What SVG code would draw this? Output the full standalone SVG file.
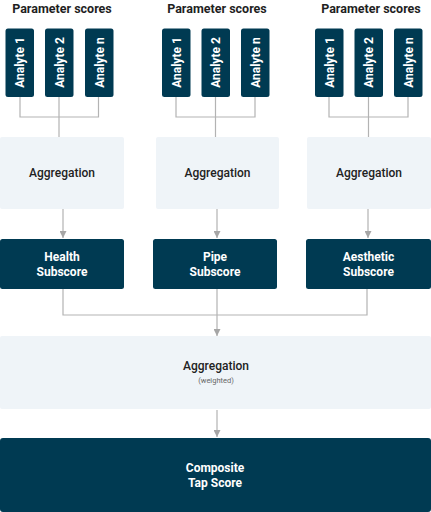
<svg xmlns="http://www.w3.org/2000/svg" width="431" height="512" viewBox="0 0 431 512">
<defs>
<style>
.title{font-family:Roboto,"Liberation Sans",sans-serif;font-weight:700;font-size:12.5px;fill:#1f1f1f;text-anchor:middle}
.an{fill:#003a52}
.ant{font-family:Roboto,"Liberation Sans",sans-serif;font-weight:700;font-size:12px;fill:#fff;text-anchor:middle}
.agg{fill:#eff4f8}
.aggt{font-family:Roboto,"Liberation Sans",sans-serif;font-weight:500;font-size:12px;fill:#222;text-anchor:middle}
.sub{font-family:Roboto,"Liberation Sans",sans-serif;font-size:7.5px;fill:#666;text-anchor:middle}
.dk{fill:#003a52}
.dkt{font-family:Roboto,"Liberation Sans",sans-serif;font-weight:700;font-size:12px;fill:#fff;text-anchor:middle}
.ln{fill:none;stroke:#b3b3b3;stroke-width:1.2}
</style>
<marker id="ah" viewBox="0 0 10 10" refX="10" refY="5" markerWidth="7" markerHeight="7" markerUnits="userSpaceOnUse" orient="auto">
<path d="M0,0 L10,5 L0,10 z" fill="#a6a6a6"/>
</marker>
</defs>

<g id="connectors">
<path class="ln" d="M20,97 V117 H98.5 V97 M59,97 V137"/>
<path class="ln" d="M176,97 V117 H255 V97 M215.5,97 V137"/>
<path class="ln" d="M329,97 V117 H408 V97 M368.5,97 V137"/>
<path class="ln" d="M63,209 V238" marker-end="url(#ah)"/>
<path class="ln" d="M217,209 V238" marker-end="url(#ah)"/>
<path class="ln" d="M368,209 V238" marker-end="url(#ah)"/>
<path class="ln" d="M63,289 V315 H367 V289 M217,289 V336" marker-end="url(#ah)"/>
<path class="ln" d="M217,410 V437" marker-end="url(#ah)"/>
</g>

<g id="title-1"><text class="title" x="62" y="13">Parameter scores</text></g>
<g id="title-2"><text class="title" x="217" y="13">Parameter scores</text></g>
<g id="title-3"><text class="title" x="371" y="13">Parameter scores</text></g>

<g id="a1-1"><rect class="an" x="5.5" y="28.5" width="28.5" height="68.5" rx="2.5"/><text class="ant" transform="translate(24,62.5) rotate(-90)">Analyte 1</text></g>
<g id="a1-2"><rect class="an" x="45" y="28.5" width="28.5" height="68.5" rx="2.5"/><text class="ant" transform="translate(63.5,62.5) rotate(-90)">Analyte 2</text></g>
<g id="a1-n"><rect class="an" x="85" y="28.5" width="28.5" height="68.5" rx="2.5"/><text class="ant" transform="translate(103.5,62.5) rotate(-90)">Analyte n</text></g>

<g id="a2-1"><rect class="an" x="162" y="28.5" width="28.5" height="68.5" rx="2.5"/><text class="ant" transform="translate(180.5,62.5) rotate(-90)">Analyte 1</text></g>
<g id="a2-2"><rect class="an" x="201.5" y="28.5" width="28.5" height="68.5" rx="2.5"/><text class="ant" transform="translate(220,62.5) rotate(-90)">Analyte 2</text></g>
<g id="a2-n"><rect class="an" x="241" y="28.5" width="28.5" height="68.5" rx="2.5"/><text class="ant" transform="translate(259.5,62.5) rotate(-90)">Analyte n</text></g>

<g id="a3-1"><rect class="an" x="315" y="28.5" width="28.5" height="68.5" rx="2.5"/><text class="ant" transform="translate(333.5,62.5) rotate(-90)">Analyte 1</text></g>
<g id="a3-2"><rect class="an" x="354.5" y="28.5" width="28.5" height="68.5" rx="2.5"/><text class="ant" transform="translate(373,62.5) rotate(-90)">Analyte 2</text></g>
<g id="a3-n"><rect class="an" x="394" y="28.5" width="28.5" height="68.5" rx="2.5"/><text class="ant" transform="translate(412.5,62.5) rotate(-90)">Analyte n</text></g>

<g id="agg-1"><rect class="agg" x="0" y="137" width="124" height="72" rx="2"/><text class="aggt" x="62" y="177">Aggregation</text></g>
<g id="agg-2"><rect class="agg" x="156" y="137" width="123" height="72" rx="2"/><text class="aggt" x="217.5" y="177">Aggregation</text></g>
<g id="agg-3"><rect class="agg" x="307" y="137" width="124" height="72" rx="2"/><text class="aggt" x="369" y="177">Aggregation</text></g>

<g id="health"><rect class="dk" x="0" y="239" width="124" height="50" rx="2.5"/><text class="dkt" x="62" y="261">Health</text><text class="dkt" x="62" y="276">Subscore</text></g>
<g id="pipe"><rect class="dk" x="153" y="239" width="124" height="50" rx="2.5"/><text class="dkt" x="215" y="261">Pipe</text><text class="dkt" x="215" y="276">Subscore</text></g>
<g id="aesthetic"><rect class="dk" x="306" y="239" width="125" height="50" rx="2.5"/><text class="dkt" x="368.5" y="261">Aesthetic</text><text class="dkt" x="368.5" y="276">Subscore</text></g>

<g id="agg-weighted"><rect class="agg" x="0" y="336" width="431" height="73" rx="2"/><text class="aggt" x="216" y="370">Aggregation</text><text class="sub" x="216" y="383">(weighted)</text></g>

<g id="composite"><rect class="dk" x="0" y="438" width="431" height="74" rx="3"/><text class="dkt" x="215" y="472">Composite</text><text class="dkt" x="215" y="487">Tap Score</text></g>
</svg>
